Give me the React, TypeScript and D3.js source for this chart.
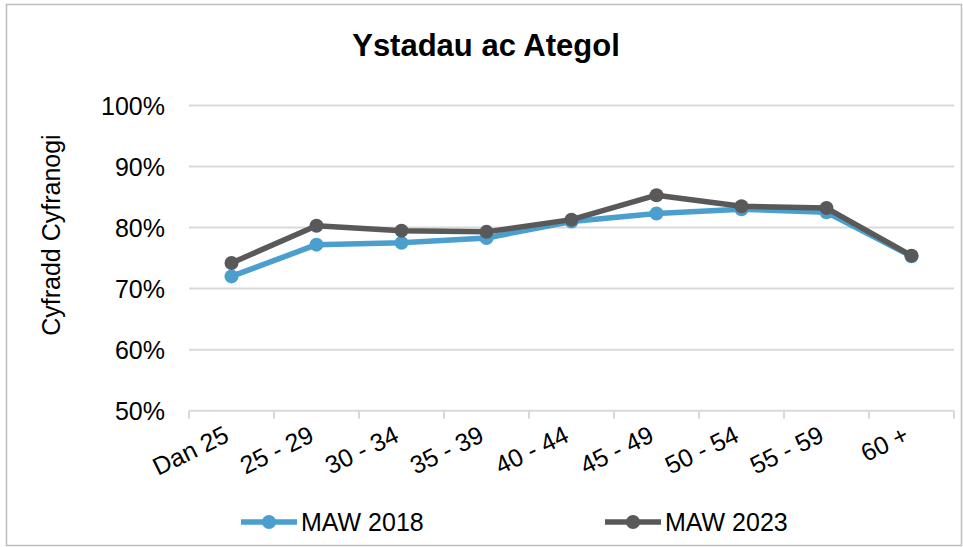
import React, { useEffect, useRef } from "react";
import * as d3 from "d3";

const categories = ["Dan 25", "25 - 29", "30 - 34", "35 - 39", "40 - 44", "45 - 49", "50 - 54", "55 - 59", "60 +"];
const maw2018 = [72.0, 77.2, 77.5, 78.3, 81.0, 82.3, 83.0, 82.5, 75.3];
const maw2023 = [74.2, 80.3, 79.5, 79.3, 81.3, 85.3, 83.5, 83.2, 75.4];
const yTicks = [50, 60, 70, 80, 90, 100];

const series = [
  { name: "MAW 2018", values: maw2018, color: "#4a9fcf" },
  { name: "MAW 2023", values: maw2023, color: "#595959" },
];

const W = 963;
const H = 547;
const font = "'Liberation Sans', Arial, sans-serif";

const App: React.FC = () => {
  const svgRef = useRef<SVGSVGElement>(null);

  useEffect(() => {
    if (!svgRef.current) return;
    const svg = d3.select(svgRef.current);
    svg.selectAll("*").remove();

    // outer chart border
    svg
      .append("rect")
      .attr("x", 6.5)
      .attr("y", 4.5)
      .attr("width", 955)
      .attr("height", 541)
      .attr("fill", "white")
      .attr("stroke", "#bdbdbd")
      .attr("stroke-width", 1.5);

    const left = 189;
    const right = 954;
    const top = 105.5;
    const bottom = 410.7;

    const x = d3.scaleBand<string>().domain(categories).range([left, right]);
    const y = d3.scaleLinear().domain([50, 100]).range([bottom, top]);

    // title
    svg
      .append("text")
      .text("Ystadau ac Ategol")
      .attr("x", 486)
      .attr("y", 56)
      .attr("text-anchor", "middle")
      .style("font-family", font)
      .style("font-weight", "bold")
      .style("font-size", "31px")
      .style("fill", "#000");

    // gridlines
    svg
      .append("g")
      .selectAll("line")
      .data(yTicks)
      .enter()
      .append("line")
      .attr("x1", left)
      .attr("x2", right)
      .attr("y1", (d) => y(d))
      .attr("y2", (d) => y(d))
      .attr("stroke", "#d9d9d9")
      .attr("stroke-width", 2);

    // x tick marks
    const tickPos = categories.map((c) => x(c) as number).concat([right]);
    svg
      .append("g")
      .selectAll("line")
      .data(tickPos)
      .enter()
      .append("line")
      .attr("x1", (d) => d)
      .attr("x2", (d) => d)
      .attr("y1", bottom)
      .attr("y2", bottom + 8)
      .attr("stroke", "#d9d9d9")
      .attr("stroke-width", 2);

    // y labels
    svg
      .append("g")
      .selectAll("text")
      .data(yTicks)
      .enter()
      .append("text")
      .text((d) => `${d}%`)
      .attr("x", 165)
      .attr("y", (d) => y(d))
      .attr("dy", "0.36em")
      .attr("text-anchor", "end")
      .style("font-family", font)
      .style("font-size", "25px")
      .style("fill", "#000");

    // y axis title
    svg
      .append("text")
      .text("Cyfradd Cyfranogi")
      .attr("transform", `translate(60, ${(top + bottom) / 2 - 23}) rotate(-90)`)
      .attr("text-anchor", "middle")
      .style("font-family", font)
      .style("font-size", "25px")
      .style("fill", "#000");

    // x labels
    svg
      .append("g")
      .selectAll("text")
      .data(categories)
      .enter()
      .append("text")
      .text((d) => d)
      .attr(
        "transform",
        (d) => `translate(${(x(d) as number) + x.bandwidth() / 2 - 1}, ${bottom + 30}) rotate(-26)`
      )
      .attr("text-anchor", "end")
      .style("font-family", font)
      .style("font-size", "25px")
      .style("fill", "#000");

    // series
    const cx = (i: number) => (x(categories[i]) as number) + x.bandwidth() / 2;
    const line = d3
      .line<number>()
      .x((_, i) => cx(i))
      .y((d) => y(d));

    series.forEach((s) => {
      const g = svg.append("g");
      g.append("path")
        .datum(s.values)
        .attr("d", line)
        .attr("fill", "none")
        .attr("stroke", s.color)
        .attr("stroke-width", 5.5)
        .attr("stroke-linejoin", "round");
      g.selectAll("circle")
        .data(s.values)
        .enter()
        .append("circle")
        .attr("cx", (_, i) => cx(i))
        .attr("cy", (d) => y(d))
        .attr("r", 7)
        .attr("fill", s.color);
    });

    // legend
    const legendX = [241, 605];
    series.forEach((s, i) => {
      const lg = svg.append("g").attr("transform", `translate(${legendX[i]}, 522)`);
      lg.append("line")
        .attr("x1", 0)
        .attr("x2", 56)
        .attr("y1", 0)
        .attr("y2", 0)
        .attr("stroke", s.color)
        .attr("stroke-width", 5.5);
      lg.append("circle").attr("cx", 28).attr("cy", 0).attr("r", 7).attr("fill", s.color);
      lg.append("text")
        .text(s.name)
        .attr("x", 60)
        .attr("y", 0)
        .attr("dy", "0.36em")
        .style("font-family", font)
        .style("font-size", "25px")
        .style("fill", "#000");
    });
  }, []);

  return (
    <svg
      ref={svgRef}
      width={W}
      height={H}
      viewBox={`0 0 ${W} ${H}`}
      style={{ position: "absolute", left: 0, top: 0, background: "white" }}
    />
  );
};

export default App;
